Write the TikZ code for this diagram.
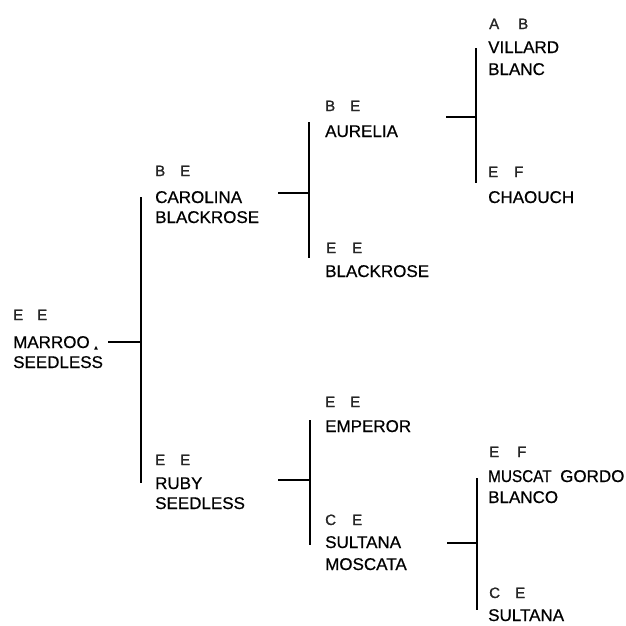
\documentclass[tikz,border=0pt]{standalone}
\usepackage{fontspec}
\setmainfont{Liberation Sans}
\newfontfamily\namefont{Liberation Sans}[FakeBold=0.6]
\newfontfamily\genofont{Liberation Sans}[FakeBold=1.2]
\begin{document}
\begin{tikzpicture}[x=1pt,y=-1pt,
  nm/.style={font=\namefont\fontsize{17}{19}\selectfont, inner sep=0pt, anchor=base west},
  geno/.style={font=\genofont\fontsize{15}{17}\selectfont, inner sep=0pt, anchor=base west, text=black!85},
  ln/.style={line width=1.1pt}]
\useasboundingbox (0,0) rectangle (626,625);
% root
\node[geno] (rg1) at (13,320) {E};
\node[geno] (rg2) at (37,320) {E};
\node[nm] (r1) at (13,348) {MARROO};
\node[nm] (r2) at (13,368) {SEEDLESS};
\coordinate (mk) at (96,348);
\fill (mk) ++(-1.8,1.5) -- ++(1.8,-3.6) -- ++(1.8,3.6) -- cycle;
% Carolina Blackrose
\node[geno] (cg1) at (155,176) {B};
\node[geno] (cg2) at (180,176) {E};
\node[nm] (c1) at (155,203) {CAROLINA};
\node[nm] (c2) at (155,223) {BLACKROSE};
% Ruby Seedless
\node[geno] (rbg1) at (155,465) {E};
\node[geno] (rbg2) at (180,465) {E};
\node[nm] (rb1) at (155,489) {RUBY};
\node[nm] (rb2) at (155,509) {SEEDLESS};
% Aurelia
\node[geno] (ag1) at (325,111) {B};
\node[geno] (ag2) at (350,111) {E};
\node[nm] (a1) at (325,137) {AURELIA};
% Blackrose
\node[geno] (bg1) at (326,253) {E};
\node[geno] (bg2) at (352,253) {E};
\node[nm] (b1) at (325,277) {BLACKROSE};
% Emperor
\node[geno] (eg1) at (325,407) {E};
\node[geno] (eg2) at (350,407) {E};
\node[nm] (e1) at (325,432) {EMPEROR};
% Sultana Moscata
\node[geno] (smg1) at (325,525) {C};
\node[geno] (smg2) at (352,525) {E};
\node[nm] (sm1) at (325,548) {SULTANA};
\node[nm] (sm2) at (325,570) {MOSCATA};
% Villard Blanc
\node[geno] (vg1) at (489,29) {A};
\node[geno] (vg2) at (518,29) {B};
\node[nm] (v1) at (488,53) {VILLARD};
\node[nm] (v2) at (488,75) {BLANC};
% Chaouch
\node[geno] (chg1) at (488,177) {E};
\node[geno] (chg2) at (514,177) {F};
\node[nm] (ch1) at (488,203) {CHAOUCH};
% Muscat Gordo Blanco
\node[geno] (mg1) at (489,457) {E};
\node[geno] (mg2) at (517,457) {F};
\node[nm] (m1) at (488,482) {\scalebox{0.9}[1]{MUSCAT}};
\node[nm] (m1b) at (560,482) {GORDO};
\node[nm] (m2) at (488,503) {BLANCO};
% Sultana
\node[geno] (sg1) at (489,598) {C};
\node[geno] (sg2) at (515,598) {E};
\node[nm] (s1) at (488,621) {SULTANA};
% connector coordinates
\coordinate (h0a) at (108,342); \coordinate (h0b) at (141,342);
\coordinate (v0t) at (141,197); \coordinate (v0b) at (141,483);
\coordinate (h1a) at (278,193); \coordinate (h1b) at (309,193);
\coordinate (v1t) at (309,122); \coordinate (v1b) at (309,258);
\coordinate (h2a) at (446,117); \coordinate (h2b) at (476,117);
\coordinate (v2t) at (476,48);  \coordinate (v2b) at (476,183);
\coordinate (h3a) at (278,480); \coordinate (h3b) at (310,480);
\coordinate (v3t) at (310,420); \coordinate (v3b) at (310,545);
\coordinate (h4a) at (447,543); \coordinate (h4b) at (477,543);
\coordinate (v4t) at (477,478); \coordinate (v4b) at (477,610);
\draw[ln] (h0a) -- (h0b); \draw[ln] (v0t) -- (v0b);
\draw[ln] (h1a) -- (h1b); \draw[ln] (v1t) -- (v1b);
\draw[ln] (h2a) -- (h2b); \draw[ln] (v2t) -- (v2b);
\draw[ln] (h3a) -- (h3b); \draw[ln] (v3t) -- (v3b);
\draw[ln] (h4a) -- (h4b); \draw[ln] (v4t) -- (v4b);
\end{tikzpicture}
\end{document}
